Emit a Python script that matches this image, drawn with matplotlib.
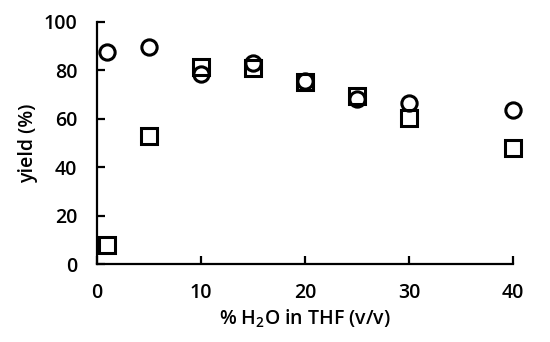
import matplotlib.pyplot as plt

# data
water_pct = [1, 5, 10, 15, 20, 25, 30, 40]
yield_circle = [87.5, 89.5, 78.5, 83, 75.5, 68, 66.5, 63.5]
yield_square = [7.7, 53, 81.5, 81, 75, 69.5, 60.5, 48]

plt.rcParams['font.family'] = ['Open Sans', 'DejaVu Sans']

fig = plt.figure(figsize=(5.5, 3.42), dpi=100)
ax = fig.add_axes([0.176, 0.228, 0.757, 0.708])

ax.plot(water_pct, yield_square, ls="none", marker="s", ms=11, mfc="white",
        mec="black", mew=2.2, zorder=3, clip_on=False)
ax.plot(water_pct, yield_circle, ls="none", marker="o", ms=11, mfc="none",
        mec="black", mew=2.2, zorder=4, clip_on=False)

ax.set_xlim(0, 40)
ax.set_ylim(0, 100)
ax.set_xticks([0, 10, 20, 30, 40])
ax.set_yticks([0, 20, 40, 60, 80, 100])

for s in ["top", "right"]:
    ax.spines[s].set_visible(False)
for s in ["left", "bottom"]:
    ax.spines[s].set_linewidth(1.6)
ax.tick_params(direction="in", length=6, width=1.6, labelsize=14, pad=14)
for lbl in ax.get_xticklabels() + ax.get_yticklabels():
    lbl.set_fontweight("semibold")

ax.set_xlabel("% H$_\\mathregular{2}$O in THF (v/v)", fontsize=14, fontweight="semibold", labelpad=3)
ax.set_ylabel("yield (%)", fontsize=14, fontweight="semibold", labelpad=4)

fig.savefig("out.png", dpi=100)
